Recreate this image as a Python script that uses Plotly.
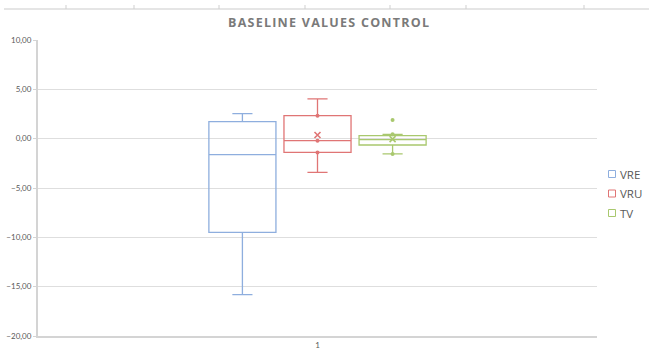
import plotly.graph_objects as go

# Box-plot summary statistics per series (single category "1")
series = ["VRE", "VRU", "TV"]
colors = ["#8eaede", "#e07575", "#a9c86e"]
category = ["1"]

upper_whisker = [2.54, 4.03, 0.44]
q3_values = [1.73, 2.33, 0.30]
medians = [-1.62, -0.20, -0.10]
q1_values = [-9.50, -1.39, -0.64]
lower_whisker = [-15.80, -3.42, -1.55]
means = [None, 0.37, -0.05]

# Individual points drawn on top of the boxes
inner_points = {"VRE": [], "VRU": [2.33, -0.20, -1.39], "TV": [0.44, -1.55]}
outliers = {"VRE": [], "VRU": [], "TV": [1.90]}

y_ticks = [10, 5, 0, -5, -10, -15, -20]
title_text = "BASELINE VALUES CONTROL"

W, H = 649, 356
ML, MR, MT, MB = 38, 52, 40, 20

fig = go.Figure()

for i, name in enumerate(series):
    fig.add_trace(go.Box(
        name=name,
        x=category,
        q1=[q1_values[i]], median=[medians[i]], q3=[q3_values[i]],
        lowerfence=[lower_whisker[i]], upperfence=[upper_whisker[i]],
        offsetgroup=name,
        fillcolor="rgba(255,255,255,0)",
        line=dict(color=colors[i], width=1.3),
        whiskerwidth=0.3,
        boxpoints=False,
        showlegend=False,
    ))

for i, name in enumerate(series):
    pts = inner_points[name] + outliers[name]
    fig.add_trace(go.Scatter(
        x=category * len(pts) if pts else category,
        y=pts if pts else [None],
        mode="markers",
        offsetgroup=name,
        marker=dict(color=colors[i], size=4),
        showlegend=False, hoverinfo="skip",
    ))
    fig.add_trace(go.Scatter(
        x=category,
        y=[means[i]],
        mode="markers",
        offsetgroup=name,
        marker=dict(color=colors[i], size=6, symbol="x-thin",
                    line=dict(color=colors[i], width=1.6)),
        showlegend=False, hoverinfo="skip",
    ))

pw, ph = W - ML - MR, H - MT - MB


def px_x(px):
    return (px - ML) / pw


def px_y(py):
    return (H - MB - py) / ph


# Thin rule with tick marks along the very top of the canvas
shapes = [dict(type="line", xref="paper", yref="paper",
               x0=px_x(4), x1=px_x(W), y0=px_y(9), y1=px_y(9),
               line=dict(color="#dcdcdc", width=1.5))]
for tx in [66, 134, 219, 305, 390, 466, 584]:
    shapes.append(dict(type="line", xref="paper", yref="paper",
                       x0=px_x(tx), x1=px_x(tx), y0=px_y(9), y1=px_y(5),
                       line=dict(color="#cfcfcf", width=1)))

# Legend: small outlined squares with series names
annotations = []
for i, name in enumerate(series):
    cy = 174 + i * 19.5
    shapes.append(dict(type="rect", xref="paper", yref="paper",
                       x0=px_x(608.5), x1=px_x(615.5),
                       y0=px_y(cy + 3.5), y1=px_y(cy - 3.5),
                       line=dict(color=colors[i], width=1),
                       fillcolor="white"))
    annotations.append(dict(text=name, xref="paper", yref="paper",
                            x=px_x(618), y=px_y(cy), xanchor="left",
                            yanchor="middle", showarrow=False,
                            font=dict(size=11.5, color="#595959",
                                      family="Open Sans, sans-serif")))

# Letter-spaced title
spaced_title = "\u200a".join(title_text)

fig.update_layout(
    width=W, height=H,
    margin=dict(l=ML, r=MR, t=MT, b=MB),
    paper_bgcolor="white", plot_bgcolor="white",
    separators=",.",
    boxmode="group", boxgap=0.597, boxgroupgap=0.107,
    scattermode="group", scattergap=0.597,
    font=dict(family="Lato, Open Sans, sans-serif", color="#595959"),
    title=dict(text="<b>" + spaced_title + "</b>", x=328.5 / W, xanchor="center",
               xref="container", y=1 - 23 / H, yanchor="middle", yref="container",
               font=dict(size=12.5, color="#7a7a7a", family="Open Sans, sans-serif")),
    xaxis=dict(type="category", range=[-0.5, 0.5], showgrid=False,
               showline=True, linecolor="#d4d4d4", linewidth=2,
               ticks="", automargin=False,
               tickfont=dict(size=8, color="#595959")),
    yaxis=dict(range=[-20, 10], tickvals=y_ticks, tickformat=".2f",
               showgrid=True, gridcolor="#dedede", gridwidth=1,
               showline=True, linecolor="#d4d4d4", linewidth=2,
               ticks="outside", ticklen=3, tickcolor="#d4d4d4",
               zeroline=False, automargin=False,
               tickfont=dict(size=8, color="#595959")),
    shapes=shapes,
    annotations=annotations,
    showlegend=False,
)

fig.write_html("out.html")
